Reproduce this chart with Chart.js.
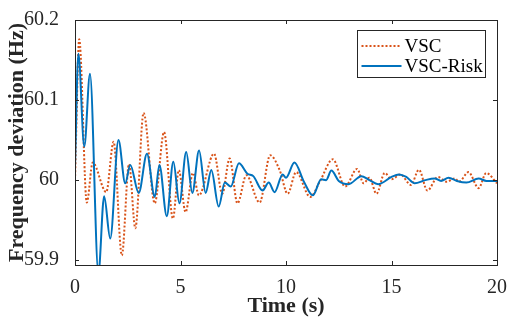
<!DOCTYPE html>
<html>
<head>
<meta charset="utf-8">
<script src="https://cdn.jsdelivr.net/npm/chart.js@4.4.0/dist/chart.umd.min.js"></script>
<style>
  body { margin: 0; background: #fff; }
  #wrap { width: 510px; height: 326px; }
</style>
</head>
<body>
<div id="wrap"><canvas id="freqChart" width="510" height="326"></canvas></div>
<script>
// Series data (time in s, frequency in Hz)
const timeVsc = [0, 0.2, 0.56, 0.84, 1.48, 1.83, 2.22, 2.56, 2.86, 3.25, 3.78, 4.22, 4.64, 4.92, 5.24, 5.59, 5.87, 6.59, 6.98, 7.33, 7.7, 8.12, 8.75, 9.25, 9.7, 10.08, 10.48, 11.15, 11.6, 12.22, 12.8, 13.37, 13.68, 13.95, 14.29, 14.68, 15.0, 15.42, 15.92, 16.3, 16.7, 17.2, 17.62, 18.0, 18.2, 18.65, 19.13, 19.49, 20];
const freqVsc = [60.0, 60.176, 59.972, 60.022, 59.985, 60.048, 59.906, 60.02, 59.94, 60.084, 59.971, 60.06, 59.952, 60.0125, 59.96, 60.009, 59.981, 60.033, 59.983, 60.027, 59.971, 60.006, 59.972, 60.031, 60.0125, 59.983, 60.01, 59.979, 59.998, 60.026, 59.992, 60.014, 59.996, 60.003, 59.983, 60.009, 60.001, 60.007, 59.994, 60.013, 59.987, 60.004, 59.998, 60.002, 59.998, 60.01, 59.99, 60.009, 59.996];

const timeRisk = [0, 0.16, 0.44, 0.71, 1.11, 1.38, 1.67, 2.06, 2.38, 2.62, 3.02, 3.41, 3.78, 4.0, 4.35, 4.66, 4.95, 5.27, 5.56, 5.88, 6.19, 6.46, 6.81, 7.1, 7.38, 7.77, 8.17, 8.45, 8.89, 9.18, 9.46, 9.84, 10.0, 10.4, 10.85, 11.27, 11.67, 11.9, 12.15, 12.5, 12.97, 13.57, 13.95, 14.37, 15.0, 15.35, 15.7, 16.1, 16.6, 17.05, 17.35, 17.7, 18.1, 18.55, 19.13, 19.5, 20];
const freqRisk = [60.016, 60.158, 60.042, 60.133, 59.884, 59.98, 59.927, 60.05, 59.996, 60.019, 59.984, 60.033, 59.979, 60.019, 59.955, 60.023, 59.971, 60.035, 59.984, 60.037, 59.984, 60.0125, 59.967, 59.997, 59.992, 60.021, 60.008, 60.005, 59.987, 59.997, 59.985, 60.007, 60.003, 60.022, 59.998, 59.981, 60.001, 60.0, 60.012, 59.999, 59.995, 60.005, 60.0, 59.995, 60.004, 60.007, 60.004, 59.996, 60.0, 60.002, 59.999, 60.003, 59.999, 59.997, 60.002, 59.999, 59.999];

const xTicks = [0, 5, 10, 15, 20];
const yTicks = [59.9, 60, 60.1, 60.2];
const seriesLabels = ['VSC', 'VSC-Risk'];

const orange = '#D95319';
const blue = '#0072BD';
const axisColor = '#262626';

function toPoints(xs, ys) {
    return xs.map((x, i) => ({ x: x, y: ys[i] }));
}

// Box around the plot with inward ticks on every side (MATLAB look)
const framePlugin = {
    id: 'frame',
    afterDatasetsDraw(chart) {
        const { ctx, chartArea: a, scales } = chart;
        ctx.save();
        ctx.strokeStyle = axisColor;
        ctx.lineWidth = 1;
        ctx.strokeRect(a.left + 0.5, a.top + 0.5, a.width, a.height);
        ctx.beginPath();
        xTicks.forEach(v => {
            const px = Math.round(scales.x.getPixelForValue(v)) + 0.5;
            ctx.moveTo(px, a.bottom); ctx.lineTo(px, a.bottom - 4);
            ctx.moveTo(px, a.top); ctx.lineTo(px, a.top + 4);
        });
        yTicks.forEach(v => {
            const py = Math.round(scales.y.getPixelForValue(v)) + 0.5;
            ctx.moveTo(a.left, py); ctx.lineTo(a.left + 4, py);
            ctx.moveTo(a.right, py); ctx.lineTo(a.right - 4, py);
        });
        ctx.stroke();
        ctx.restore();
    }
};

// Legend in a boxed panel at the top right of the plot
const legendBoxPlugin = {
    id: 'legendBox',
    afterDraw(chart) {
        const ctx = chart.ctx;
        const a = chart.chartArea;
        const bx = a.right - 139.5, by = a.top + 10.5, bw = 128, bh = 47;
        ctx.save();
        ctx.fillStyle = '#fff';
        ctx.fillRect(bx, by, bw, bh);
        ctx.strokeStyle = axisColor;
        ctx.lineWidth = 1;
        ctx.strokeRect(bx, by, bw, bh);

        ctx.font = '19px "Liberation Serif"';
        ctx.textBaseline = 'middle';
        ctx.fillStyle = '#000';
        const order = [1, 0];
        order.forEach((dsIndex, row) => {
            const ds = chart.data.datasets[dsIndex];
            const y = by + 15.5 + row * 20;
            ctx.beginPath();
            ctx.strokeStyle = ds.borderColor;
            ctx.lineWidth = ds.borderWidth;
            ctx.setLineDash(ds.borderDash || []);
            ctx.moveTo(bx + 4, y);
            ctx.lineTo(bx + 44, y);
            ctx.stroke();
            ctx.setLineDash([]);
            ctx.fillText(ds.label, bx + 47, y + 1);
        });
        ctx.restore();
    }
};

function drawChart() {
    const ctx = document.getElementById('freqChart').getContext('2d');
    Chart.defaults.font.family = '"Liberation Serif", "Times New Roman", serif';
    Chart.defaults.color = axisColor;

    new Chart(ctx, {
        type: 'line',
        data: {
            datasets: [{
                label: seriesLabels[1],
                data: toPoints(timeRisk, freqRisk),
                borderColor: blue,
                borderWidth: 2,
                pointRadius: 0,
                cubicInterpolationMode: 'monotone',
                order: 0
            }, {
                label: seriesLabels[0],
                data: toPoints(timeVsc, freqVsc),
                borderColor: orange,
                borderWidth: 2,
                borderDash: [2, 2],
                pointRadius: 0,
                cubicInterpolationMode: 'monotone',
                order: 1
            }]
        },
        options: {
            responsive: false,
            animation: false,
            layout: { padding: { top: 20, right: 9, left: 0, bottom: 0 } },
            plugins: {
                legend: { display: false },
                tooltip: { enabled: false }
            },
            scales: {
                x: {
                    type: 'linear',
                    min: 0,
                    max: 20,
                    grid: { display: false },
                    border: { display: false },
                    afterBuildTicks: s => { s.ticks = xTicks.map(v => ({ value: v })); },
                    afterFit: s => { s.height = 61; },
                    ticks: { font: { size: 20 }, color: axisColor, padding: 3, maxRotation: 0 },
                    title: {
                        display: true,
                        text: 'Time (s)',
                        font: { size: 22, weight: 'bold' },
                        color: axisColor,
                        padding: { top: 0, bottom: 6 }
                    }
                },
                y: {
                    min: 59.894,
                    max: 60.2,
                    grid: { display: false },
                    border: { display: false },
                    afterBuildTicks: s => { s.ticks = yTicks.map(v => ({ value: v })); },
                    afterFit: s => { s.width = 75; },
                    ticks: { font: { size: 20 }, color: axisColor, padding: 8, callback: v => String(v) },
                    title: {
                        display: true,
                        text: 'Frequency deviation (Hz)',
                        font: { size: 22, weight: 'bold' },
                        color: axisColor,
                        padding: { top: 4, bottom: 0 }
                    }
                }
            }
        },
        plugins: [framePlugin, legendBoxPlugin]
    });
}

window.onload = drawChart;
</script>
</body>
</html>
